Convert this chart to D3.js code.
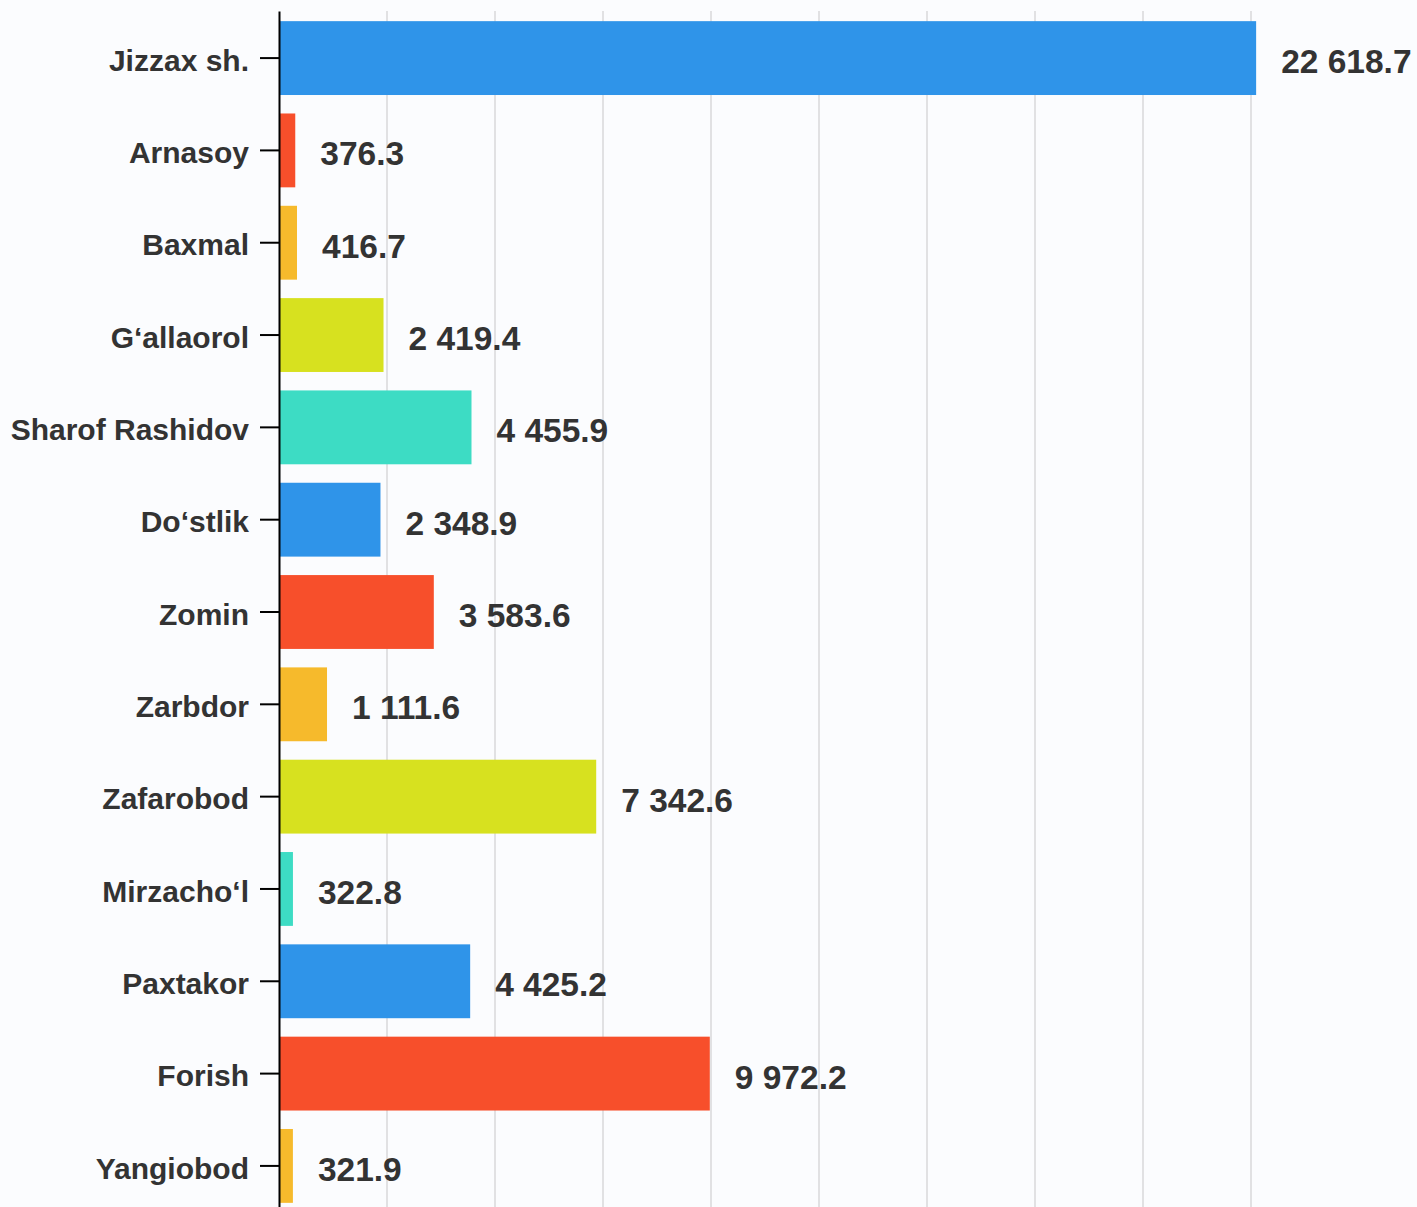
<!DOCTYPE html>
<html>
<head>
<meta charset="utf-8">
<script src="https://cdn.jsdelivr.net/npm/d3@7"></script>
<style>
	html, body { margin: 0; padding: 0; background: #fbfcfe; }
	#appBars { width: 1417px; height: 1207px; overflow: hidden; }
	text { font-family: "Liberation Sans", Arial, sans-serif; font-weight: bold; fill: #333; }
</style>
</head>
<body>
<div id="appBars"></div>
<script>
///////////////////////////////////////////////////////////////////////////
//////////////////////////// data /////////////////////////////////////////
///////////////////////////////////////////////////////////////////////////

const districts = [
	"Jizzax sh.",
	"Arnasoy",
	"Baxmal",
	"G‘allaorol",
	"Sharof Rashidov",
	"Do‘stlik",
	"Zomin",
	"Zarbdor",
	"Zafarobod",
	"Mirzacho‘l",
	"Paxtakor",
	"Forish",
	"Yangiobod"
];

const values = [
	22618.7, 376.3, 416.7, 2419.4, 4455.9, 2348.9, 3583.6, 1111.6, 7342.6,
	322.8, 4425.2, 9972.2, 321.9
];

const gridValues = [2500, 5000, 7500, 10000, 12500, 15000, 17500, 20000, 22500];

const colorsType = ["#2f94e9", "#f74f2b", "#f6ba2c", "#d7e11f", "#3ddcc4"];

///////////////////////////////////////////////////////////////////////////
//////////////////////////// drawing function /////////////////////////////
///////////////////////////////////////////////////////////////////////////

const createChart = () => {
	const data = districts.map((name, i) => ({ name, val: values[i], idx: i }));

	const xAccessor = (d) => d.val;
	const yAccessor = (d) => d.name;

	//////////////////////////// sizes ///////////////////////////////////

	const dimensions = {
		width: 1417,
		height: 1207,
		left: 279,
		top: 11,
		bottom: 1213,
		unit: 108 / 2500 // px per unit
	};

	const wrapper = d3
		.select("#appBars")
		.append("svg")
		.attr("width", dimensions.width)
		.attr("height", dimensions.height);

	//////////////////////////// scales ///////////////////////////////////////

	const maxVal = d3.max(data, xAccessor);

	const xScale = d3
		.scaleLinear()
		.domain([0, maxVal])
		.range([dimensions.left, dimensions.left + maxVal * dimensions.unit]);

	const yScale = d3
		.scaleBand()
		.domain(districts)
		.range([dimensions.top, dimensions.bottom])
		.paddingInner(0.2)
		.paddingOuter(0.11);

	const cScale = d3
		.scaleOrdinal()
		.domain(d3.range(districts.length))
		.range(colorsType);

	const fmt = d3.formatLocale({
		decimal: ".",
		thousands: " ",
		grouping: [3],
		currency: ["", ""]
	}).format(",.1f");

	//////////////////////////// grid ///////////////////////////////////////

	wrapper
		.append("g")
		.attr("class", "grid")
		.selectAll("line")
		.data(gridValues)
		.join("line")
		.attr("x1", (d) => xScale(d))
		.attr("x2", (d) => xScale(d))
		.attr("y1", dimensions.top)
		.attr("y2", dimensions.height)
		.attr("stroke", "#e1e1e3")
		.attr("stroke-width", 2);

	//////////////////////////// bars ///////////////////////////////////////

	wrapper
		.append("g")
		.attr("class", "bars")
		.selectAll("rect")
		.data(data)
		.join("rect")
		.attr("x", xScale(0))
		.attr("y", (d) => yScale(yAccessor(d)))
		.attr("width", (d) => xScale(xAccessor(d)) - xScale(0))
		.attr("height", yScale.bandwidth())
		.attr("fill", (d) => cScale(d.idx));

	// value labels
	wrapper
		.append("g")
		.attr("class", "values")
		.selectAll("text")
		.data(data)
		.join("text")
		.attr("x", (d) => xScale(xAccessor(d)) + 25)
		.attr("y", (d) => yScale(yAccessor(d)) + yScale.bandwidth() / 2)
		.attr("dy", "0.45em")
		.style("font-size", "33.5px")
		.text((d) => fmt(xAccessor(d)));

	//////////////////////////// axis ///////////////////////////////////////

	const yAxis = d3.axisLeft(yScale).tickSize(19).tickPadding(11).tickSizeOuter(0);

	const axisG = wrapper
		.append("g")
		.attr("transform", `translate(${dimensions.left},0)`)
		.call(yAxis);

	axisG.select(".domain").attr("stroke", "#000").attr("stroke-width", 2);
	axisG.selectAll(".tick line").attr("stroke", "#000").attr("stroke-width", 2);
	axisG
		.selectAll(".tick text")
		.attr("fill", "#333")
		.attr("dy", "0.42em")
		.style("font-size", "30px")
		.style("font-family", "'Liberation Sans', Arial, sans-serif")
		.style("font-weight", "bold");
};

createChart();
</script>
</body>
</html>
